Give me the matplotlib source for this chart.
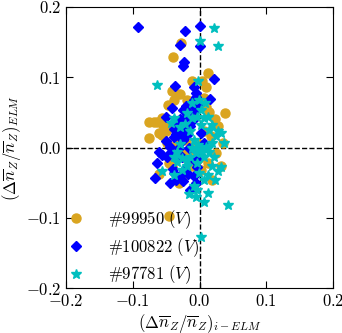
import numpy as np
import matplotlib
matplotlib.use('Agg')
import matplotlib.pyplot as plt
from matplotlib.ticker import FuncFormatter

plt.rcParams['mathtext.fontset'] = 'cm'
plt.rcParams['font.family'] = 'serif'
plt.rcParams['font.serif'] = ['cmr10', 'DejaVu Serif']
plt.rcParams['axes.unicode_minus'] = True

# shot #99950 (V)
x_99950 = [-0.028, -0.040, 0.013, -0.011, 0.004, 0.009, -0.041, -0.034, -0.030, -0.048,
           -0.075, -0.068, -0.063, -0.076, -0.060, -0.056, -0.051, -0.054, -0.046, -0.049,
           -0.039, -0.034, -0.028, -0.023, -0.016, -0.011, -0.004, 0.007, 0.009, 0.014,
           0.038, 0.023, 0.028, 0.035, 0.024, 0.032, -0.060, -0.046, -0.042, -0.046,
           -0.031, -0.024, -0.011, -0.004, 0.002, 0.012, 0.017, 0.007, -0.021, -0.029,
           -0.019, -0.011, -0.056, -0.039, -0.019, 0.002, 0.019, -0.041, -0.036]
y_99950 = [0.149, 0.129, 0.106, 0.095, 0.094, 0.086, 0.081, 0.076, 0.076, 0.061,
           0.037, 0.036, 0.036, 0.014, 0.021, 0.018, 0.023, 0.032, 0.029, 0.006,
           0.001, 0.006, -0.006, -0.013, -0.006, 0.001, 0.006, 0.070, 0.058, 0.051,
           0.049, 0.041, 0.030, 0.006, -0.008, -0.027, -0.037, -0.022, -0.027, -0.098,
           -0.050, -0.039, -0.027, -0.018, -0.032, -0.022, 0.016, 0.023, 0.011, 0.016,
           0.046, 0.054, 0.042, 0.068, 0.068, -0.013, -0.046, -0.006, -0.013]

# shot #100822 (V)
x_100822 = [-0.092, 0.000, -0.022, 0.000, -0.029, -0.023, -0.025, 0.022, -0.037, -0.008,
            -0.006, -0.005, -0.009, 0.016, -0.012, -0.020, -0.025, -0.016, -0.021, -0.029,
            -0.033, -0.038, -0.036, -0.039, -0.031, -0.025, -0.023, -0.019, -0.015, -0.010,
            -0.006, -0.003, -0.042, -0.051, -0.051, -0.061, -0.056, -0.049, -0.045, -0.063,
            -0.066, -0.044, -0.036, -0.030, -0.025, -0.039, -0.040, -0.023, -0.018, -0.009,
            -0.006, -0.015, -0.004, -0.009, -0.001, 0.002, 0.007, -0.031, -0.026, -0.044,
            -0.016]
y_100822 = [0.172, 0.173, 0.166, 0.145, 0.146, 0.122, 0.116, 0.097, 0.088, 0.086,
            0.077, 0.072, 0.067, 0.069, 0.062, 0.059, 0.054, 0.049, 0.043, 0.040,
            0.035, 0.027, 0.019, 0.015, 0.016, 0.011, 0.023, 0.018, 0.030, 0.039,
            0.054, 0.062, 0.056, 0.043, 0.009, -0.006, -0.010, -0.014, -0.008, -0.022,
            -0.044, -0.051, -0.046, -0.041, -0.047, -0.036, -0.031, -0.032, -0.037, -0.041,
            -0.050, -0.060, -0.028, -0.018, -0.013, 0.020, 0.006, -0.001, -0.013, 0.001,
            -0.001]

# shot #97781 (V)
x_97781 = [0.021, 0.000, 0.028, -0.064, -0.002, -0.012, 0.008, 0.012, -0.004, -0.019,
           -0.038, -0.043, -0.029, -0.022, 0.019, 0.032, 0.024, 0.019, 0.009, 0.002,
           -0.006, -0.014, -0.019, -0.026, -0.034, -0.039, -0.004, 0.007, 0.014, 0.022,
           0.019, 0.027, 0.023, 0.007, 0.012, -0.001, -0.009, -0.004, -0.016, -0.005,
           0.007, 0.012, 0.042, 0.002, -0.056, -0.039, -0.026, -0.019, 0.037, 0.032,
           -0.011, -0.003, 0.004, 0.012, -0.009, -0.015, 0.002, 0.007, -0.011, 0.014,
           0.027, -0.029, -0.034, 0.002, -0.001]
y_97781 = [0.170, 0.152, 0.144, 0.089, 0.095, 0.063, 0.063, 0.043, 0.043, 0.049,
           0.042, 0.035, 0.029, 0.034, 0.032, 0.020, 0.016, 0.006, 0.001, -0.003,
           -0.008, -0.013, -0.018, -0.015, -0.020, -0.013, -0.022, -0.013, -0.007, -0.014,
           -0.027, -0.034, -0.046, -0.046, -0.039, -0.036, -0.055, -0.061, -0.066, -0.071,
           -0.078, -0.065, -0.082, -0.128, -0.033, -0.039, -0.032, -0.027, 0.006, -0.028,
           -0.001, 0.004, -0.006, -0.001, 0.011, 0.023, 0.032, 0.042, 0.042, 0.025,
           0.024, 0.005, -0.006, 0.054, 0.068]

fig = plt.figure(figsize=(3.42, 3.33), dpi=100)
ax = fig.add_axes([0.193, 0.135, 0.781, 0.844])

ax.axhline(0, color='k', ls='--', lw=1, zorder=1)
ax.axvline(0, color='k', ls='--', lw=1, zorder=1)

ax.plot(x_99950, y_99950, 'o', color='#DAA520', mec='#DAA520', ms=6.5, label=r'$\#99950\ (V)$', zorder=2)
ax.plot(x_100822, y_100822, 'D', color='#0000FF', mec='#0000FF', ms=5.5, label=r'$\#100822\ (V)$', zorder=3)
ax.plot(x_97781, y_97781, '*', color='#00BFBF', mec='#00BFBF', ms=7, label=r'$\#97781\ (V)$', zorder=4)

ax.set_xlim(-0.2, 0.2)
ax.set_ylim(-0.2, 0.2)
ax.set_xticks([-0.2, -0.1, 0.0, 0.1, 0.2])
ax.set_yticks([-0.2, -0.1, 0.0, 0.1, 0.2])
fmt = FuncFormatter(lambda v, p: r'$%.1f$' % v)
ax.xaxis.set_major_formatter(fmt)
ax.yaxis.set_major_formatter(fmt)
ax.tick_params(direction='in', top=True, right=True, length=5, labelsize=12)

ax.set_xlabel(r'$(\Delta\overline{n}_Z/\overline{n}_Z)_{i-ELM}$', fontsize=12, labelpad=2)
ax.set_ylabel(r'$(\Delta\overline{n}_Z/\overline{n}_Z)_{ELM}$', fontsize=12, labelpad=2)

ax.legend(loc='lower left', frameon=False, numpoints=1, fontsize=12,
          handlelength=1.0, handletextpad=1.4, labelspacing=0.3,
          borderaxespad=0.0, borderpad=0.1)

plt.savefig('out.png', dpi=100)
